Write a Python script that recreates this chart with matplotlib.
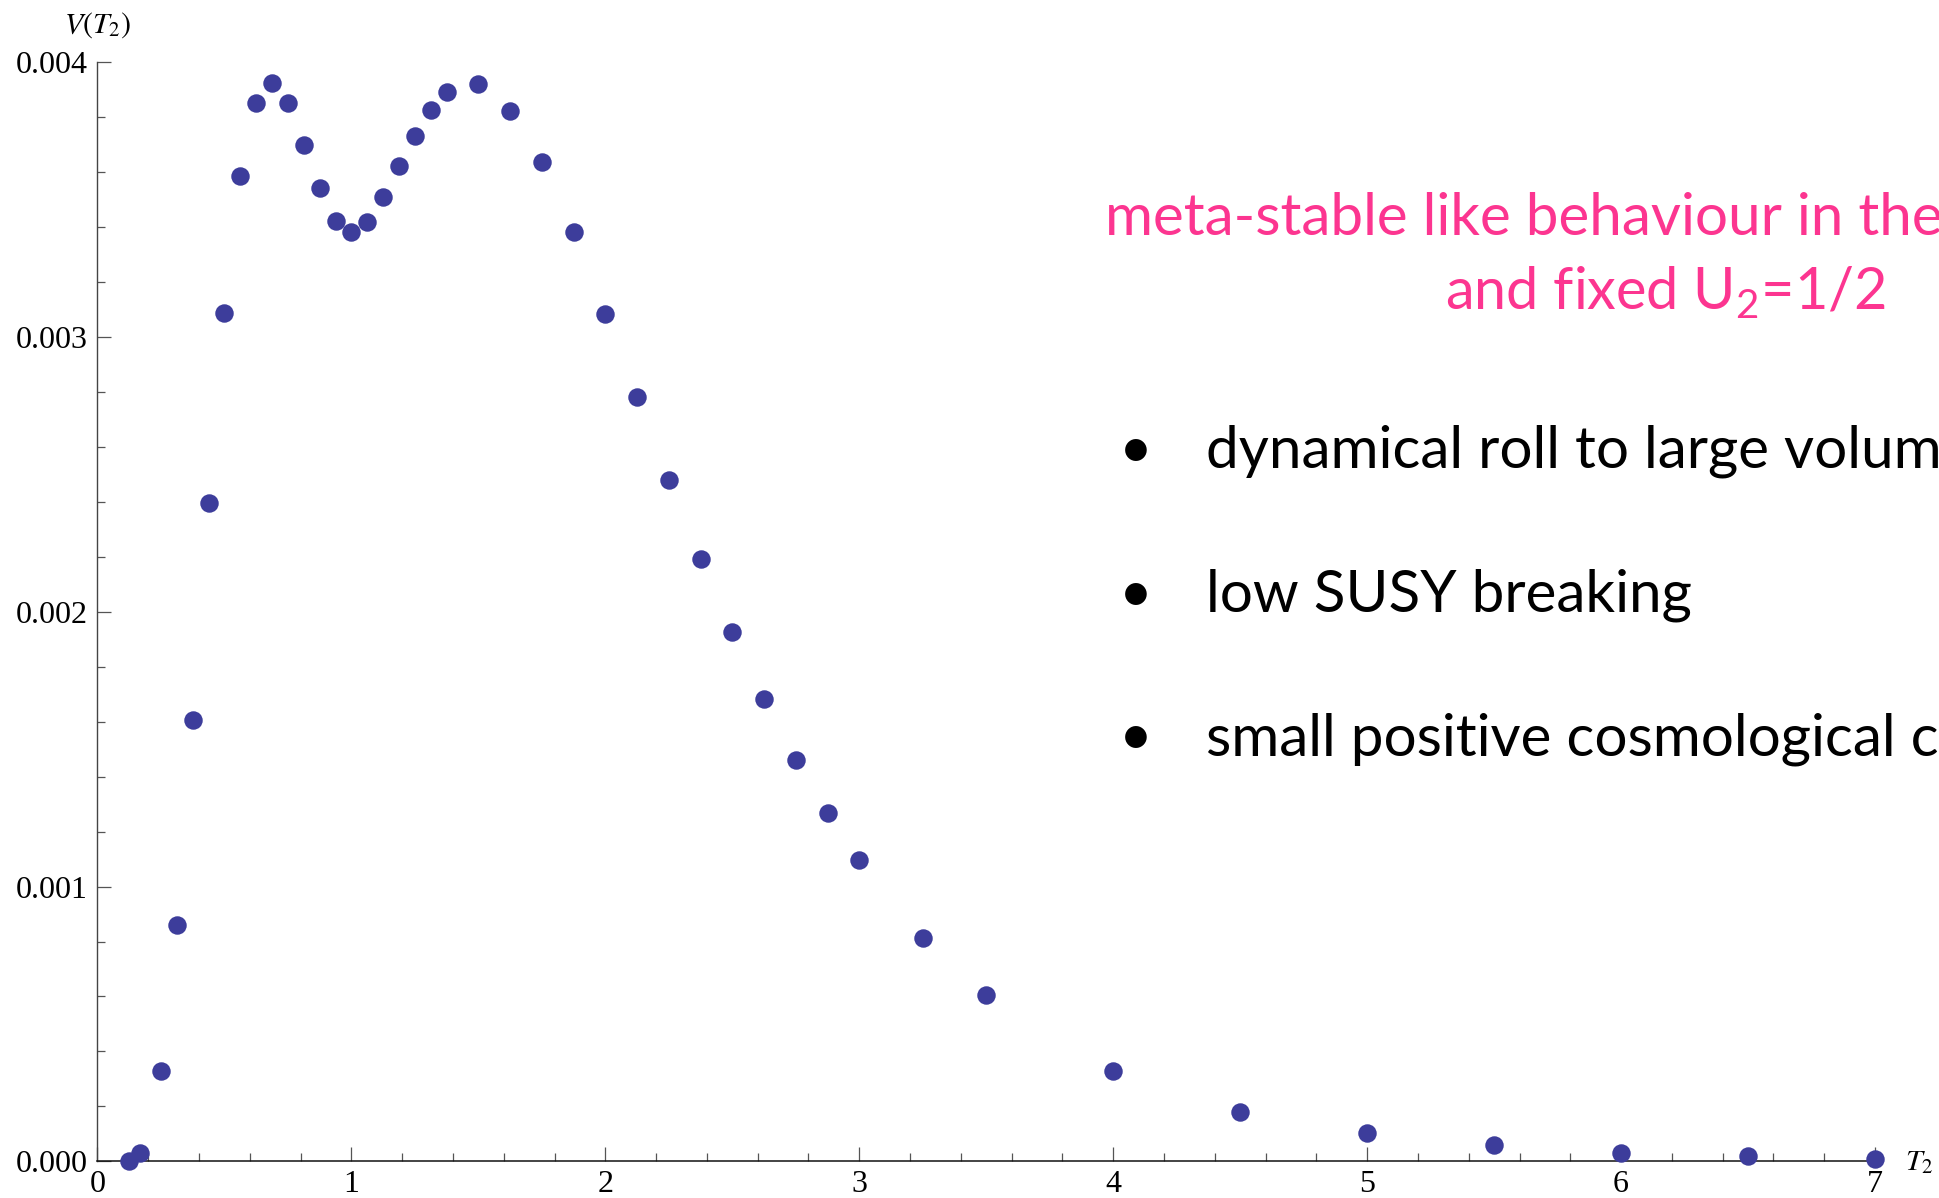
import matplotlib
matplotlib.use("Agg")
import matplotlib.pyplot as plt
from matplotlib.ticker import MultipleLocator, FormatStrFormatter

# potential V(T2) sampled along T2
t2 = [0.125, 0.167, 0.25, 0.3125, 0.375, 0.4375, 0.5, 0.5625, 0.625, 0.6875,
      0.75, 0.8125, 0.875, 0.9375, 1.0, 1.0625, 1.125, 1.1875, 1.25, 1.3125,
      1.375, 1.5, 1.625, 1.75, 1.875, 2.0, 2.125, 2.25, 2.375, 2.5, 2.625,
      2.75, 2.875, 3.0, 3.25, 3.5, 4.0, 4.5, 5.0, 5.5, 6.0, 6.5, 7.0]
v = [0.000000, 0.000030, 0.000330, 0.000861, 0.001605, 0.002395, 0.003086,
     0.003586, 0.003851, 0.003926, 0.003851, 0.003700, 0.003541, 0.003424,
     0.003384, 0.003419, 0.003510, 0.003623, 0.003733, 0.003826, 0.003891,
     0.003921, 0.003824, 0.003636, 0.003382, 0.003085, 0.002782, 0.002480,
     0.002192, 0.001926, 0.001682, 0.001461, 0.001267, 0.001096, 0.000812,
     0.000604, 0.000329, 0.000180, 0.000104, 0.000059, 0.000032, 0.000018,
     0.000009]

x_ticks = [0, 1, 2, 3, 4, 5, 6, 7]
y_ticks = [0.000, 0.001, 0.002, 0.003, 0.004]

headline = "meta-stable like behaviour in the"
subline = "and fixed U$_2$=1/2"
bullets = ["dynamical roll to large volume",
           "low SUSY breaking",
           "small positive cosmological constant"]

plt.rcParams["mathtext.fontset"] = "custom"
plt.rcParams["mathtext.rm"] = "Lato"
plt.rcParams["mathtext.it"] = "Lato:italic"

W, H = 1940, 1198
fig = plt.figure(figsize=(W / 100, H / 100), dpi=100)
ax = fig.add_axes([97.5 / W, 1 - 1161.3 / H, (1875 - 97.5) / W, (1161.3 - 62.3) / H])

ax.plot(t2, v, "o", color="#3d3d9b", markersize=13.3, markeredgewidth=0,
        clip_on=False, zorder=3)

ax.set_xlim(0, 7)
ax.set_ylim(0, 0.004)
ax.set_xticks(x_ticks)
ax.set_yticks(y_ticks)
ax.xaxis.set_minor_locator(MultipleLocator(0.2))
ax.yaxis.set_minor_locator(MultipleLocator(0.0002))
ax.yaxis.set_major_formatter(FormatStrFormatter("%.3f"))

for side in ["top", "right"]:
    ax.spines[side].set_visible(False)
ax.spines["left"].set_color("#444444")
ax.spines["bottom"].set_color("#111111")
ax.spines["left"].set_linewidth(1.0)
ax.spines["bottom"].set_linewidth(1.1)

ax.tick_params(which="major", direction="in", length=10, width=0.9, color="#555555",
               labelsize=23, labelfontfamily="Liberation Serif")
ax.tick_params(which="minor", direction="in", length=5.8, width=0.9, color="#555555")
ax.tick_params(axis="y", pad=7)
ax.tick_params(axis="x", pad=6)

# axis labels at the ends of the axes
ax.annotate(r"$V(T_2)$", xy=(0, 1), xycoords="axes fraction", xytext=(0, 37),
            textcoords="offset pixels", ha="center", va="center", fontsize=21.5,
            math_fontfamily="stix")
ax.annotate(r"$T_2$", xy=(1, 0), xycoords="axes fraction", xytext=(30, 0),
            textcoords="offset pixels", ha="left", va="center", fontsize=21.5,
            math_fontfamily="stix")

pink = "#fc3590"
fig.text(1105 / W, 1 - 235 / H, headline, color=pink, fontsize=42,
         family="Lato", va="baseline", ha="left")
fig.text(1445 / W, 1 - 309 / H, subline, color=pink, fontsize=41.5,
         family="Lato", va="baseline", ha="left")

for i, line in enumerate(bullets):
    yb = [468, 612, 755][i]
    fig.text(1136 / W, 1 - yb / H, "\u2022", color="black", fontsize=42,
             family="Lato", va="baseline", ha="center")
    fig.text(1206 / W, 1 - yb / H, line, color="black", fontsize=42,
             family="Lato", va="baseline", ha="left")

fig.savefig("out.png", dpi=100)
plt.close(fig)
